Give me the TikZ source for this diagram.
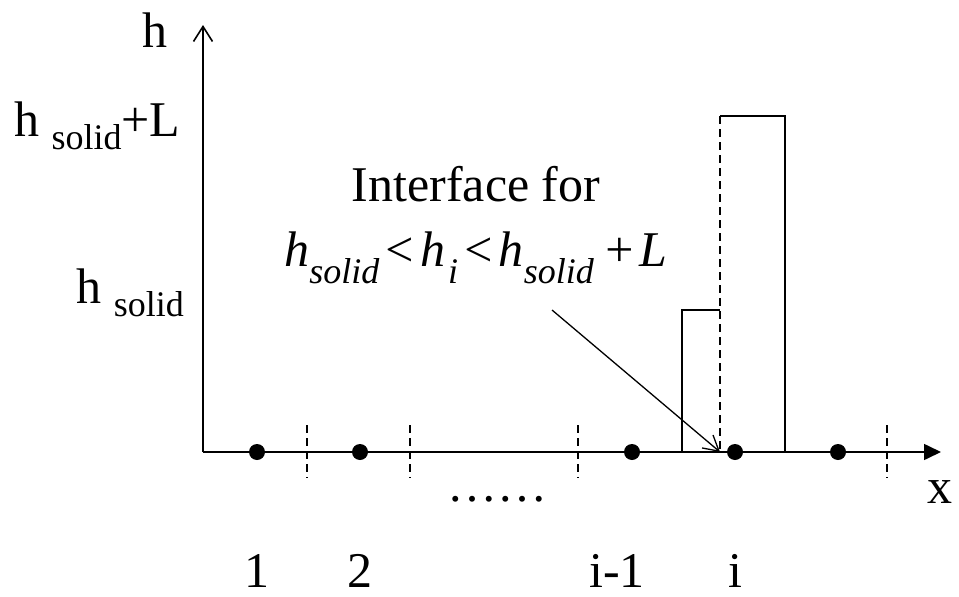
\documentclass[tikz,border=0pt]{standalone}
\usepackage{fontspec}
\setmainfont{Liberation Serif}
\usetikzlibrary{arrows.meta, positioning}
\tikzset{
	axisline/.style={line width=1.6pt},
	cellsep/.style={dash pattern=on 8pt off 5pt, line width=1.3pt},
	cellpt/.style={circle, fill=black, inner sep=0pt, minimum size=16pt},
	barline/.style={line width=1.9pt},
	lbl/.style={font=\fontsize{50}{56}\selectfont, inner sep=0pt},
	pointer/.style={-{Straight Barb[length=15pt, width=17pt]}, line width=1.3pt},
}
\newcommand{\sublbl}[1]{\raisebox{-13pt}{\fontsize{36}{36}\selectfont #1}}
\newcommand{\subfrm}[1]{\raisebox{-17pt}{\fontsize{36}{36}\selectfont #1}}
\begin{document}
\begin{tikzpicture}[x=1pt, y=-1pt]
	\useasboundingbox (0,0) rectangle (959,597);
	% axes
	\coordinate (o) at (203,452);
	\coordinate (ytop) at (203,25);
	\coordinate (xend) at (941,452);
	\draw[axisline, -{Straight Barb[length=15pt, width=19pt]}] (o) -- (ytop);
	\draw[axisline, -{Triangle[length=17pt, width=16pt]}] (o) -- (xend);
	% cell faces
	\foreach \xf in {307,410,578,887}
		\draw[cellsep] (\xf,425) -- (\xf,478);
	% bars
	\coordinate (face) at (720,452);
	\draw[barline] (682,452) |- (720,310);
	\draw[barline] (720,116) -| (785,452);
	\draw[barline, cellsep, line width=1.6pt] (720,116) -- (face);
	% cell centres
	\node[cellpt] (c1) at (257,452) {};
	\node[cellpt] (c2) at (360,452) {};
	\node[cellpt] (cim) at (632,452) {};
	\node[cellpt] (ci) at (735,452) {};
	\node[cellpt] (cip) at (838,452) {};
	% labels
	\node[lbl, anchor=base east] (hlab) at (168,47) {h};
	\node[lbl, anchor=base west] (hL) at (14,136) {h \sublbl{solid}+L};
	\node[lbl, anchor=base east] (hs) at (184,303) {h \sublbl{solid}};
	\node[lbl, anchor=base] (xlab) at (940,503) {x};
	\node[lbl, anchor=base] (dots) at (497,501) {……};
	\node[lbl, anchor=base] (n1) at (257,587) {1};
	\node[lbl, anchor=base] (n2) at (360,587) {2};
	\node[lbl, anchor=base] (nim) at (617,587) {i-1};
	\node[lbl, anchor=base] (ni) at (735,587) {i};
	\node[lbl, anchor=base] (itf) at (476,201) {Interface for};
	\node[lbl, anchor=base] (cond) at (476,266) {\itshape h\subfrm{solid}\kern3pt<\kern4pt h\kern3pt\subfrm{i}\kern3pt<\kern4pt h\subfrm{solid}\kern9pt+\kern3pt L};
	% pointer to the face
	\coordinate (ptr) at (552,310);
	\draw[pointer] (ptr) -- (face);
\end{tikzpicture}
\end{document}
